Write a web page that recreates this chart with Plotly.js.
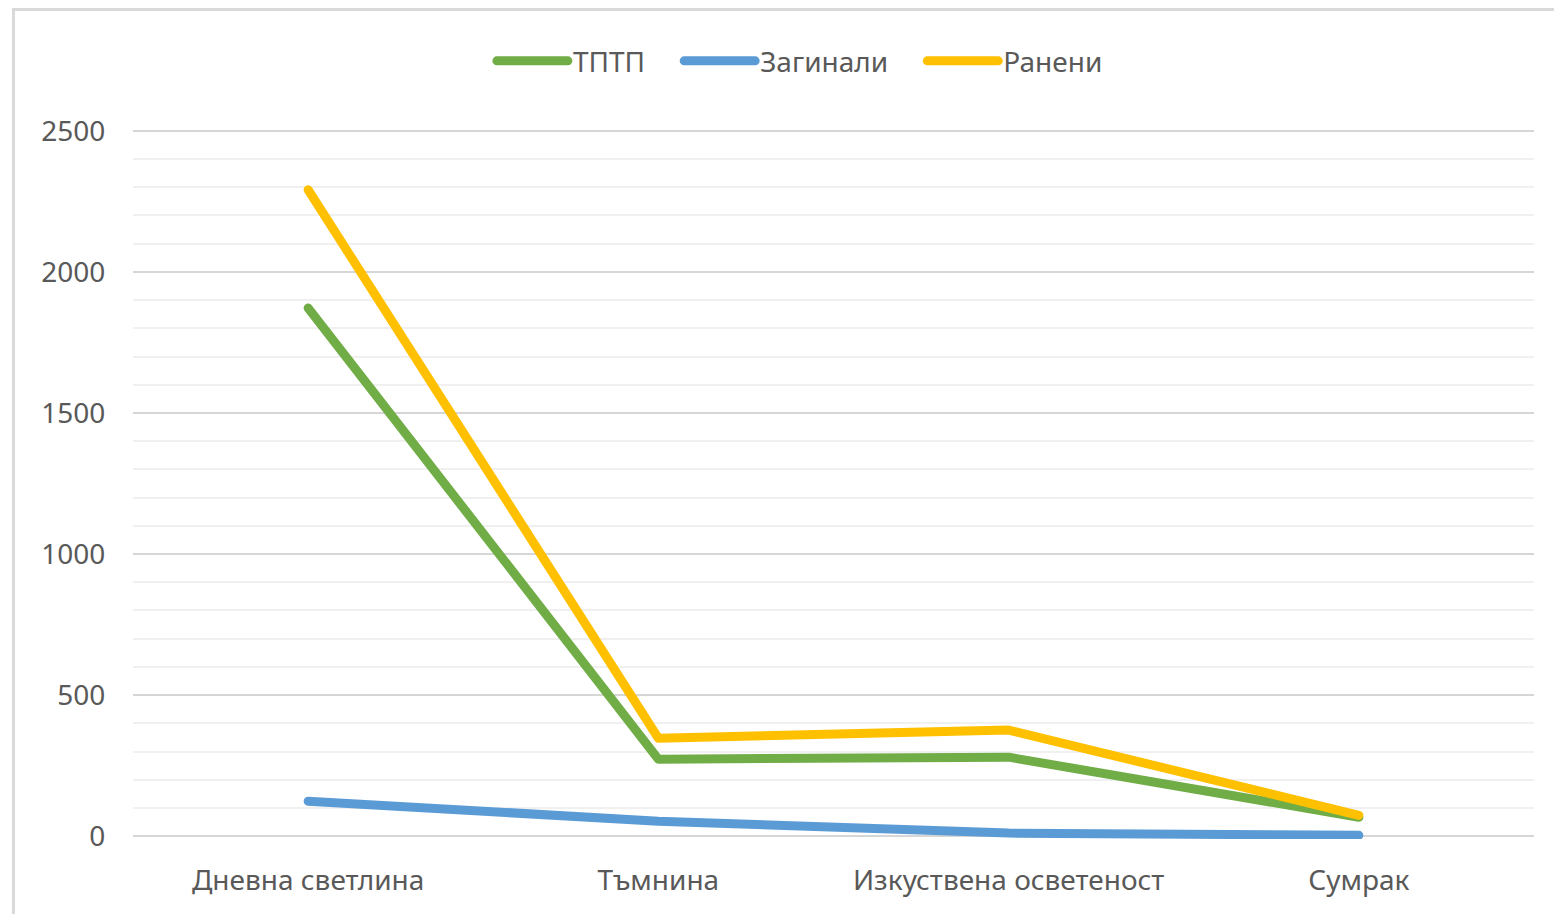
<!DOCTYPE html>
<html>
<head>
<meta charset="utf-8">
<script src="https://cdn.plot.ly/plotly-3.0.1.min.js"></script>
<style>
html,body{margin:0;padding:0;background:#fff;}
#frame{position:absolute;left:12px;top:8px;width:1600px;height:1000px;border-top:3px solid #d9d9d9;border-left:3px solid #d9d9d9;}
#chart{position:absolute;left:0;top:0;width:1554px;height:914px;}
#chart .js-line{stroke-linecap:round;stroke-linejoin:round;}
</style>
</head>
<body>
<div id="frame"></div>
<div id="chart"></div>
<script>
const categories = ["Дневна светлина", "Тъмнина", "Изкуствена осветеност", "Сумрак"];
const seriesNames = ["ТПТП", "Загинали", "Ранени"];
const tptp = [1872, 273, 280, 67];
const zaginali = [124, 53, 11, 3];
const raneni = [2291, 347, 376, 74];
const yTicks = [0, 500, 1000, 1500, 2000, 2500];

const font = "Noto Sans, sans-serif";
const txt = "#595959";
const pad = "\u00a0\u00a0\u00a0\u00a0";

function series(name, y, color) {
  return {type: "scatter", mode: "lines", name: name, x: categories, y: y,
    line: {color: color, width: 9}, hoverinfo: "x+y"};
}

const data = [
  series(seriesNames[0] + pad, tptp, "#70ad47"),
  series(seriesNames[1] + pad, zaginali, "#5b9bd5"),
  series(seriesNames[2], raneni, "#ffc000")
];

const layout = {
  width: 1554, height: 914,
  margin: {l: 133, r: 20, t: 128, b: 75},
  paper_bgcolor: "rgba(0,0,0,0)", plot_bgcolor: "rgba(0,0,0,0)",
  font: {family: font, size: 28, color: txt},
  showlegend: true,
  legend: {orientation: "h", x: 0.476, xanchor: "center", y: 1.094, yanchor: "middle",
    font: {family: font, size: 28, color: txt}, itemwidth: 71},
  xaxis: {type: "category", range: [-0.5, 3.5], showgrid: false, zeroline: false, showline: false,
    ticks: "outside", ticklen: 16, tickcolor: "rgba(0,0,0,0)",
    tickfont: {family: font, size: 28, color: txt}},
  yaxis: {range: [-10, 2510], tickvals: yTicks, ticktext: yTicks.map(String),
    showgrid: true, gridcolor: "#d6d6d6", gridwidth: 2, zeroline: false, showline: false,
    ticks: "outside", ticklen: 21, tickcolor: "rgba(0,0,0,0)",
    tickfont: {family: font, size: 28, color: txt},
    minor: {dtick: 100, showgrid: true, gridcolor: "#f0f0f0", gridwidth: 2, ticks: ""}}
};

Plotly.newPlot("chart", data, layout, {displayModeBar: false, staticPlot: true});
</script>
</body>
</html>
